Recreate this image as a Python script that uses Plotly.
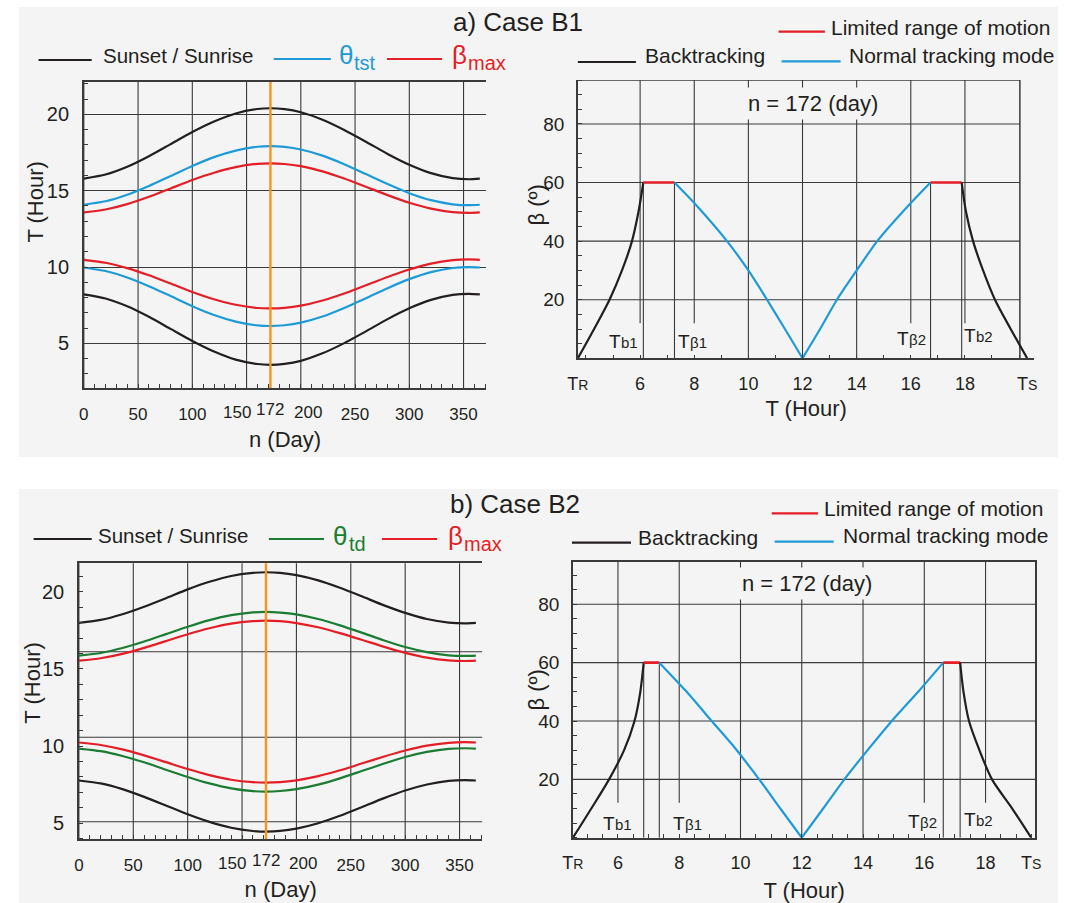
import plotly.graph_objects as go

W, H = 1071, 903
def px(v): return v / W
def py(v): return 1 - v / H

FONT = "Liberation Sans, Arial, sans-serif"
TXT = "#231f20"
BLACK = "#231f20"; BLUE = "#1e9bd7"; RED = "#e41e26"; GREEN = "#1b7c33"; ORANGE = "#f7941d"
GRID = "#3a3a3a"; BG = "#f4f4f4"

# ---------------- data : left panels (T in hours vs day n) ----------------
days = [0, 20, 40, 60, 80, 100, 120, 140, 160, 172, 185, 200, 220, 240, 260, 280, 300, 320, 340, 355, 365]
day_mark = 172

b1_sunset   = [15.79, 16.06, 16.57, 17.26, 18.05, 18.84, 19.53, 20.06, 20.35, 20.40, 20.34, 20.14, 19.65, 18.98, 18.21, 17.41, 16.70, 16.15, 15.82, 15.75, 15.79]
b1_theta_up = [14.08, 14.31, 14.74, 15.31, 15.96, 16.62, 17.20, 17.63, 17.88, 17.92, 17.87, 17.70, 17.30, 16.74, 16.09, 15.44, 14.84, 14.38, 14.11, 14.05, 14.08]
b1_beta_up  = [13.58, 13.77, 14.12, 14.60, 15.15, 15.70, 16.18, 16.55, 16.76, 16.79, 16.75, 16.61, 16.27, 15.80, 15.26, 14.71, 14.21, 13.83, 13.60, 13.55, 13.58]
b1_beta_lo  = [10.47, 10.28, 9.93, 9.46, 8.92, 8.37, 7.89, 7.53, 7.32, 7.29, 7.33, 7.47, 7.81, 8.27, 8.81, 9.35, 9.84, 10.23, 10.45, 10.50, 10.47]
b1_theta_lo = [9.97, 9.74, 9.32, 8.75, 8.10, 7.44, 6.86, 6.43, 6.18, 6.14, 6.19, 6.36, 6.76, 7.32, 7.96, 8.62, 9.21, 9.67, 9.94, 10.00, 9.97]
b1_sunrise  = [8.21, 7.94, 7.43, 6.74, 5.95, 5.16, 4.47, 3.94, 3.65, 3.60, 3.66, 3.86, 4.35, 5.02, 5.79, 6.59, 7.30, 7.85, 8.18, 8.25, 8.21]

b2_sunset   = [17.98, 18.17, 18.54, 19.03, 19.58, 20.15, 20.64, 21.02, 21.22, 21.26, 21.22, 21.07, 20.73, 20.25, 19.70, 19.13, 18.63, 18.23, 18.00, 17.95, 17.98]
b2_theta_up = [15.86, 16.03, 16.35, 16.77, 17.25, 17.73, 18.16, 18.48, 18.66, 18.69, 18.65, 18.53, 18.23, 17.82, 17.35, 16.86, 16.42, 16.09, 15.88, 15.84, 15.86]
b2_beta_up  = [15.53, 15.69, 15.97, 16.36, 16.80, 17.24, 17.63, 17.93, 18.09, 18.12, 18.09, 17.97, 17.70, 17.32, 16.89, 16.44, 16.04, 15.73, 15.55, 15.51, 15.53]
b2_beta_lo  = [10.23, 10.07, 9.79, 9.40, 8.96, 8.51, 8.12, 7.82, 7.66, 7.63, 7.66, 7.78, 8.05, 8.43, 8.87, 9.31, 9.71, 10.03, 10.21, 10.25, 10.23]
b2_theta_lo = [9.84, 9.67, 9.36, 8.95, 8.47, 8.00, 7.58, 7.26, 7.08, 7.05, 7.09, 7.21, 7.50, 7.91, 8.38, 8.85, 9.29, 9.62, 9.82, 9.86, 9.84]
b2_sunrise  = [7.77, 7.58, 7.21, 6.71, 6.15, 5.58, 5.09, 4.71, 4.50, 4.46, 4.50, 4.65, 5.00, 5.48, 6.04, 6.61, 7.12, 7.51, 7.75, 7.80, 7.77]

day_grid = [0, 50, 100, 150, 200, 250, 300, 350]
day_labels = [0, 50, 100, 250, 300, 350]
hour_ticks_left = [5, 10, 15, 20]

# ---------------- data : right panels (beta vs T, n = 172) ----------------
beta_up   = [0, 10, 20, 30, 40, 50, 60]
beta_down = [60, 50, 40, 30, 20, 10, 0]
beta_lim  = [60, 60]

b1_back_T1 = [3.70, 4.30, 4.87, 5.33, 5.70, 5.94, 6.12]
b1_lim_T1  = [6.12, 7.27]
b1_norm_T1 = [7.27, 8.00, 9.21, 10.00, 10.69, 11.35, 12.00]
b1_norm_B1 = [60, 53, 40, 30, 20, 10, 0]
b1_norm_T2 = [12.00, 12.65, 13.27, 14.00, 14.76, 16.00, 16.73]
b1_norm_B2 = [0, 10, 20, 30, 40, 53, 60]
b1_lim_T2  = [16.73, 17.88]
b1_back_T2 = [17.88, 18.04, 18.30, 18.67, 19.11, 19.69, 20.30]

b2_back_T1 = [4.53, 5.13, 5.71, 6.20, 6.54, 6.73, 6.84]
b2_lim_T1  = [6.84, 7.35]
b2_norm_T1 = [7.35, 8.20, 9.06, 9.80, 10.61, 11.30, 12.00]
b2_norm_B1 = [60, 50.5, 40, 31, 20, 10, 0]
b2_norm_T2 = [12.00, 12.70, 13.39, 14.15, 14.94, 15.80, 16.62]
b2_norm_B2 = [0, 10, 20, 30, 40, 50, 60]
b2_lim_T2  = [16.62, 17.17]
b2_back_T2 = [17.17, 17.28, 17.46, 17.80, 18.21, 18.87, 19.49]

hour_ticks_right = [6, 8, 10, 12, 14, 16, 18]
beta_ticks = [20, 40, 60, 80]

fig = go.Figure()

def add_line(x, y, color, xa, ya, name, shape='spline', width=2.2, smoothing=0.6):
    fig.add_trace(go.Scatter(x=x, y=y, mode='lines', name=name, showlegend=False,
                             line=dict(color=color, width=width, shape=shape, smoothing=smoothing),
                             xaxis=xa, yaxis=ya, hoverinfo='skip'))

for xa, ya, theta_c, series in [
    ('x', 'y', BLUE, [b1_sunset, b1_theta_up, b1_beta_up, b1_beta_lo, b1_theta_lo, b1_sunrise]),
    ('x3', 'y3', GREEN, [b2_sunset, b2_theta_up, b2_beta_up, b2_beta_lo, b2_theta_lo, b2_sunrise]),
]:
    cols = [BLACK, theta_c, RED, RED, theta_c, BLACK]
    names = ['Sunset', 'theta', 'beta_max', 'beta_max', 'theta', 'Sunrise']
    for s, c, n in zip(series, cols, names):
        add_line(days, s, c, xa, ya, n)

for xa, ya, d in [
    ('x2', 'y2', dict(bt1=b1_back_T1, lt1=b1_lim_T1, nt1=b1_norm_T1, nb1=b1_norm_B1,
                      nt2=b1_norm_T2, nb2=b1_norm_B2, lt2=b1_lim_T2, bt2=b1_back_T2)),
    ('x4', 'y4', dict(bt1=b2_back_T1, lt1=b2_lim_T1, nt1=b2_norm_T1, nb1=b2_norm_B1,
                      nt2=b2_norm_T2, nb2=b2_norm_B2, lt2=b2_lim_T2, bt2=b2_back_T2)),
]:
    add_line(d['bt1'], beta_up, BLACK, xa, ya, 'Backtracking', smoothing=0.8)
    add_line(d['lt1'], beta_lim, RED, xa, ya, 'Limited range of motion', 'linear', 2.6)
    add_line(d['nt1'], d['nb1'], BLUE, xa, ya, 'Normal tracking mode', 'spline')
    add_line(d['nt2'], d['nb2'], BLUE, xa, ya, 'Normal tracking mode', 'spline')
    add_line(d['lt2'], beta_lim, RED, xa, ya, 'Limited range of motion', 'linear', 2.6)
    add_line(d['bt2'], beta_down, BLACK, xa, ya, 'Backtracking', smoothing=0.8)

# ---------------- axes ----------------
def title(text, standoff):
    return dict(text=text, standoff=standoff, font=dict(size=22, color=TXT, family=FONT))

def left_x(dom, anchor, ttl):
    return dict(domain=[px(dom[0]), px(dom[1])], anchor=anchor, range=[0, 371],
                tickvals=day_labels, showgrid=False, showline=True, linecolor=GRID,
                linewidth=1.5, mirror=True, ticks='', zeroline=False, ticklabelstandoff=10,
                tickfont=dict(size=17, color=TXT, family=FONT), title=ttl,
                minor=dict(dtick=10, tick0=0, ticks='inside', ticklen=4, tickcolor=GRID, showgrid=False))

def left_y(dom, anchor, rng, grid):
    return dict(domain=[py(dom[1]), py(dom[0])], anchor=anchor, range=rng,
                tickvals=hour_ticks_left, showgrid=grid, gridcolor=GRID, gridwidth=1.1,
                showline=True, linecolor=GRID, linewidth=1.5, ticks='', zeroline=False,
                ticklabelstandoff=9, tickfont=dict(size=20, color=TXT, family=FONT),
                minor=dict(dtick=1, tick0=0, ticks='inside', ticklen=4, tickcolor=GRID, showgrid=False))

def right_x(dom, anchor, rng, minor_dt, mirror, ttl):
    tv = [rng[0]] + hour_ticks_right + [rng[2]]
    tt = ['T<span style="font-size:14px">R</span>'] + [str(v) for v in hour_ticks_right] + \
         ['T<span style="font-size:14px">S</span>']
    return dict(domain=[px(dom[0]), px(dom[1])], anchor=anchor, range=[rng[0], rng[1]],
                tickvals=tv, ticktext=tt, showgrid=False, showline=True, linecolor=GRID,
                linewidth=1.5, mirror=mirror, ticks='', zeroline=False, ticklabelstandoff=8,
                tickfont=dict(size=18, color=TXT, family=FONT), title=ttl,
                minor=dict(dtick=minor_dt, tick0=0, ticks='inside', ticklen=4, tickcolor=GRID, showgrid=False))

def right_y(dom, anchor, rng, mirror):
    return dict(domain=[py(dom[1]), py(dom[0])], anchor=anchor, range=rng,
                tickvals=beta_ticks, showgrid=False, showline=True, linecolor=GRID,
                linewidth=1.5, mirror=mirror, ticks='', zeroline=False, ticklabelstandoff=8,
                tickfont=dict(size=19, color=TXT, family=FONT),
                minor=dict(dtick=5, tick0=0, ticks='inside', ticklen=4, tickcolor=GRID, showgrid=False))

TL = dict(x=(74, 483), y=(82, 388))
TR = dict(x=(576, 1040), y=(80, 358.3))
BL = dict(x=(69, 479), y=(563.3, 839))
BR = dict(x=(571, 1041), y=(561.7, 837.7))

b1_TR, b1_TS = b1_back_T1[0], b1_back_T2[-1]
b2_TR, b2_TS = b2_back_T1[0], b2_back_T2[-1]
tr_xmax, tr_frame = 20.57, 20.03
br_xmax = 19.63

fig.update_layout(
    width=W, height=H, margin=dict(l=0, r=0, t=0, b=0),
    paper_bgcolor='white', plot_bgcolor='rgba(0,0,0,0)',
    font=dict(family=FONT, color=TXT),
    xaxis=left_x(TL['x'], 'y', title('n (Day)', 8)),
    yaxis=left_y(TL['y'], 'x', [2.08, 22.12], True),
    xaxis3=left_x(BL['x'], 'y3', title('n (Day)', 7)),
    yaxis3=left_y(BL['y'], 'x3', [3.98, 21.84], False),
    xaxis2=right_x(TR['x'], 'y2', (b1_TR, tr_xmax, b1_TS), 1, False, title('T (Hour)', 8)),
    yaxis2=right_y(TR['y'], 'x2', [0, 95], False),
    xaxis4=right_x(BR['x'], 'y4', (b2_TR, br_xmax, b2_TS), 0.5, True, title('T (Hour)', 11)),
    yaxis4=right_y(BR['y'], 'x4', [0, 94.6], True),
)

# ---------------- shapes ----------------
shapes = []
def rect_px(x0, y0, x1, y1, color):
    shapes.append(dict(type='rect', xref='paper', yref='paper', x0=px(x0), x1=px(x1),
                       y0=py(y1), y1=py(y0), fillcolor=color, line=dict(width=0), layer='below'))
def seg(xref, yref, x0, y0, x1, y1, color=GRID, width=1.1, layer='below'):
    shapes.append(dict(type='line', xref=xref, yref=yref, x0=x0, y0=y0, x1=x1, y1=y1,
                       line=dict(color=color, width=width), layer=layer))

rect_px(8, 7, 1064, 457, BG)
rect_px(8, 489, 1064, 903, BG)

for xr, yr in [('x', 'y domain'), ('x3', 'y3 domain')]:
    for g in day_grid:
        seg(xr, yr, g, 0, g, 1)

b2_hgrid = [5.1, 10.57, 16.11]
for g in b2_hgrid:
    seg('x3', 'y3', 0, g, 371, g)

seg('x', 'y domain', day_mark, 0, day_mark, 1, ORANGE, 2.4, 'above')
seg('x3', 'y3 domain', day_mark, 0, day_mark, 1, ORANGE, 2.4, 'above')

for xr, yr, x0, xe, ytop, lims in [('x2', 'y2', b1_TR, tr_frame, 95, (b1_lim_T1, b1_lim_T2)),
                                     ('x4', 'y4', b2_TR, br_xmax, 94.6, (b2_lim_T1, b2_lim_T2))]:
    for b in beta_ticks:
        seg(xr, yr, x0, b, xe, b)
    for h in hour_ticks_right:
        seg(xr, yr, h, 0 if h in (10, 12, 14) else 12, h, ytop)
    for v in [lims[0][0], lims[0][1], lims[1][0], lims[1][1]]:
        seg(xr, yr, v, 0, v, 60)
seg('x2', 'y2', b1_TR, 95, tr_frame, 95, GRID, 1.5)
seg('x2', 'y2', tr_frame, 0, tr_frame, 95, GRID, 1.5)

def sw(x0, x1, y, color):
    shapes.append(dict(type='line', xref='paper', yref='paper', x0=px(x0), x1=px(x1),
                       y0=py(y), y1=py(y), line=dict(color=color, width=2.2)))
sw(28, 82, 60, BLACK); sw(267, 325, 59, BLUE); sw(382, 438, 59, RED)
sw(780, 827, 31.7, RED); sw(576, 635, 62, BLACK); sw(783, 843, 61.3, BLUE)
sw(23, 82, 539, BLACK); sw(262, 318, 539, GREEN); sw(377, 433, 539, RED)
sw(773, 820, 513.4, RED); sw(570, 630, 542.6, BLACK); sw(776, 836, 541.6, BLUE)
fig.update_layout(shapes=shapes)

# ---------------- annotations ----------------
ann = []
def txt(x, y, text, size, color=TXT, xanchor='left', yanchor='middle', angle=0):
    ann.append(dict(x=px(x), y=py(y), xref='paper', yref='paper', text=text, showarrow=False,
                    xanchor=xanchor, yanchor=yanchor, textangle=angle, borderpad=0, borderwidth=0,
                    font=dict(size=size, color=color, family=FONT)))

LEG = 21
txt(449, 22.5, 'a) Case B1', 26)
txt(446, 504, 'b) Case B2', 26)
txt(93, 55, 'Sunset / Sunrise', 20.5)
txt(333, 55, 'θ', 26, BLUE); txt(349, 62.5, 'tst', 20, BLUE)
txt(448, 55, 'β', 26, RED); txt(464, 62.5, 'max', 20, RED)
txt(833, 27.5, 'Limited range of motion', LEG)
txt(644, 55, 'Backtracking', LEG)
txt(852, 55, 'Normal tracking mode', LEG)
txt(88, 535, 'Sunset / Sunrise', 20.5)
txt(327, 535.5, 'θ', 26, GREEN); txt(343, 543.5, 'td', 20, GREEN)
txt(444, 535.5, 'β', 26, RED); txt(460, 543.5, 'max', 20, RED)
txt(826, 508, 'Limited range of motion', LEG)
txt(637, 537.5, 'Backtracking', LEG)
txt(845, 535.8, 'Normal tracking mode', LEG)
# y axis titles
txt(24, 202, 'T (Hour)', 22, xanchor='center', angle=-90)
txt(21, 683, 'T (Hour)', 22, xanchor='center', angle=-90)
txt(533, 205, 'β (º)', 22, xanchor='center', angle=-90)
txt(533, 690, 'β (º)', 22, xanchor='center', angle=-90)

for xr, ylab in [('x', 413), ('x3', 863)]:
    for v, sh, ys in [(150, -10, 0), (day_mark, 0, 3), (200, 7, 0)]:
        ann.append(dict(x=v, y=py(ylab), xref=xr, yref='paper', text=str(v), showarrow=False,
                        xanchor='center', yanchor='middle', xshift=sh, yshift=ys,
                        font=dict(size=17, color=TXT, family=FONT)))

for xr, yr, xv, yv in [('x2', 'y2', 12.4, 87.1), ('x4', 'y4', 12.18, 87.2)]:
    ann.append(dict(x=xv, y=yv, xref=xr, yref=yr, text=f'n = {day_mark} (day)', showarrow=False,
                    bgcolor=BG, borderpad=3, font=dict(size=22, color=TXT, family=FONT)))

# T_b / T_beta labels: big "T" followed by a smaller suffix on the same baseline
for xr, yr, items in [('x2', 'y2', [(5.40, 2.0, 'b1'), (7.96, 2.0, 'β1'), (16.06, 3.3, 'β2'), (18.51, 4.3, 'b2')]),
                      ('x4', 'y4', [(6.0, 1.2, 'b1'), (8.28, 1.2, 'β1'), (15.96, 2.0, 'β2'), (17.8, 2.6, 'b2')])]:
    for xv, yv, s in items:
        ann.append(dict(x=xv, y=yv, xref=xr, yref=yr, showarrow=False, text='T',
                        xanchor='right', yanchor='bottom', xshift=-3, borderpad=0, borderwidth=0,
                        font=dict(size=19, color=TXT, family=FONT)))
        ann.append(dict(x=xv, y=yv, xref=xr, yref=yr, showarrow=False, text=s,
                        xanchor='left', yanchor='bottom', xshift=-3, yshift=1, borderpad=0, borderwidth=0,
                        font=dict(size=15, color=TXT, family=FONT)))

fig.update_layout(annotations=ann)
fig.write_html("out.html")
